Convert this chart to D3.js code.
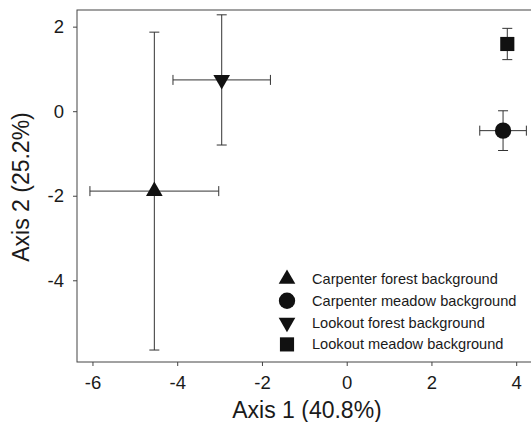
<!DOCTYPE html>
<html>
<head>
<meta charset="utf-8">
<script src="https://cdn.jsdelivr.net/npm/d3@7"></script>
<style>
  body { margin: 0; background: #fff; }
  svg { display: block; font-family: "Liberation Sans", Arial, Helvetica, sans-serif; }
  .tick text { font-size: 18.5px; fill: #1a1a1a; font-family: "Liberation Sans", Arial, sans-serif; }
</style>
</head>
<body>
<svg id="chart" width="531" height="422"></svg>
<script>
// group means and their error half-widths
const groups = ['Carpenter forest background', 'Carpenter meadow background', 'Lookout forest background', 'Lookout meadow background'];
const symbols = ['triangleUp', 'circle', 'triangleDown', 'square'];
const axis1 = [-4.54, 3.69, -2.95, 3.79];
const axis2 = [-1.89, -0.46, 0.74, 1.59];
const axis1Err = [1.52, 0.55, 1.15, 0.1];
const axis2Err = [3.76, 0.47, 1.54, 0.37];
const xTicks = [-6, -4, -2, 0, 2, 4];
const yTicks = [2, 0, -2, -4];

const svg = d3.select('#chart');
const margin = { left: 77, right: 532, top: 10, bottom: 362 };

const x = d3.scaleLinear().domain([-6.365, 4.373]).range([margin.left, margin.right]);
const y = d3.scaleLinear().domain([-5.933, 2.394]).range([margin.bottom, margin.top]);

// frame (right side falls just outside the window, as in the figure)
svg.append('rect')
    .attr('x', margin.left).attr('y', margin.top)
    .attr('width', margin.right - margin.left).attr('height', margin.bottom - margin.top)
    .attr('fill', 'none').attr('stroke', '#444').attr('stroke-width', 1);

// plain hyphen for negatives, like the original
const fmt = d => String(d);

const xAxis = svg.append('g')
    .attr('transform', `translate(0,${margin.bottom})`)
    .call(d3.axisBottom(x).tickValues(xTicks).tickFormat(fmt).tickSize(4).tickSizeOuter(0).tickPadding(10));
const yAxis = svg.append('g')
    .attr('transform', `translate(${margin.left},0)`)
    .call(d3.axisLeft(y).tickValues(yTicks).tickFormat(fmt).tickSize(4).tickSizeOuter(0).tickPadding(9));

[xAxis, yAxis].forEach(a => {
    a.select('.domain').remove();
    a.selectAll('line').attr('stroke', '#444');
});

svg.append('text')
    .attr('x', 307).attr('y', 418)
    .attr('text-anchor', 'middle').attr('font-size', 23).attr('fill', '#1a1a1a')
    .text('Axis 1 (40.8%)');
svg.append('text')
    .attr('transform', 'translate(28.5,187) rotate(-90)')
    .attr('text-anchor', 'middle').attr('font-size', 23).attr('fill', '#1a1a1a')
    .text('Axis 2 (25.2%)');

const symbolType = {
    triangleUp: d3.symbolTriangle,
    triangleDown: d3.symbolTriangle,
    circle: d3.symbolCircle,
    square: d3.symbolSquare
};
const symbolSize = { triangleUp: 120, triangleDown: 120, circle: 210, square: 200 };
const symbolPath = s => d3.symbol().type(symbolType[s]).size(symbolSize[s])();
const symbolRotate = s => s === 'triangleDown' ? ' rotate(180)' : '';

const data = groups.map((g, i) => ({
    name: g, sym: symbols[i], x: axis1[i], y: axis2[i], ex: axis1Err[i], ey: axis2Err[i]
}));

const cap = 5;
const bars = svg.append('g').attr('stroke', '#333').attr('stroke-width', 1).attr('fill', 'none');
data.forEach(d => {
    const cx = x(d.x), cy = y(d.y);
    const x0 = x(d.x - d.ex), x1 = x(d.x + d.ex);
    const y0 = y(d.y - d.ey), y1 = y(d.y + d.ey);
    bars.append('line').attr('x1', x0).attr('x2', x1).attr('y1', cy).attr('y2', cy);
    bars.append('line').attr('x1', x0).attr('x2', x0).attr('y1', cy - cap).attr('y2', cy + cap);
    bars.append('line').attr('x1', x1).attr('x2', x1).attr('y1', cy - cap).attr('y2', cy + cap);
    bars.append('line').attr('x1', cx).attr('x2', cx).attr('y1', y0).attr('y2', y1);
    bars.append('line').attr('x1', cx - cap).attr('x2', cx + cap).attr('y1', y0).attr('y2', y0);
    bars.append('line').attr('x1', cx - cap).attr('x2', cx + cap).attr('y1', y1).attr('y2', y1);
});

svg.append('g').selectAll('path')
    .data(data)
    .join('path')
    .attr('d', d => symbolPath(d.sym))
    .attr('transform', d => `translate(${x(d.x)},${y(d.y)})${symbolRotate(d.sym)}`)
    .attr('fill', '#111');

// legend
const legend = svg.append('g').attr('transform', 'translate(287,279)');
const rows = legend.selectAll('g')
    .data(data)
    .join('g')
    .attr('transform', (d, i) => `translate(0,${i * 21.8})`);
rows.append('path')
    .attr('d', d => symbolPath(d.sym))
    .attr('transform', d => symbolRotate(d.sym).trim())
    .attr('fill', '#111');
rows.append('text')
    .attr('x', 25).attr('y', 5)
    .attr('font-size', 14.6).attr('fill', '#1a1a1a')
    .text(d => d.name);
</script>
</body>
</html>
